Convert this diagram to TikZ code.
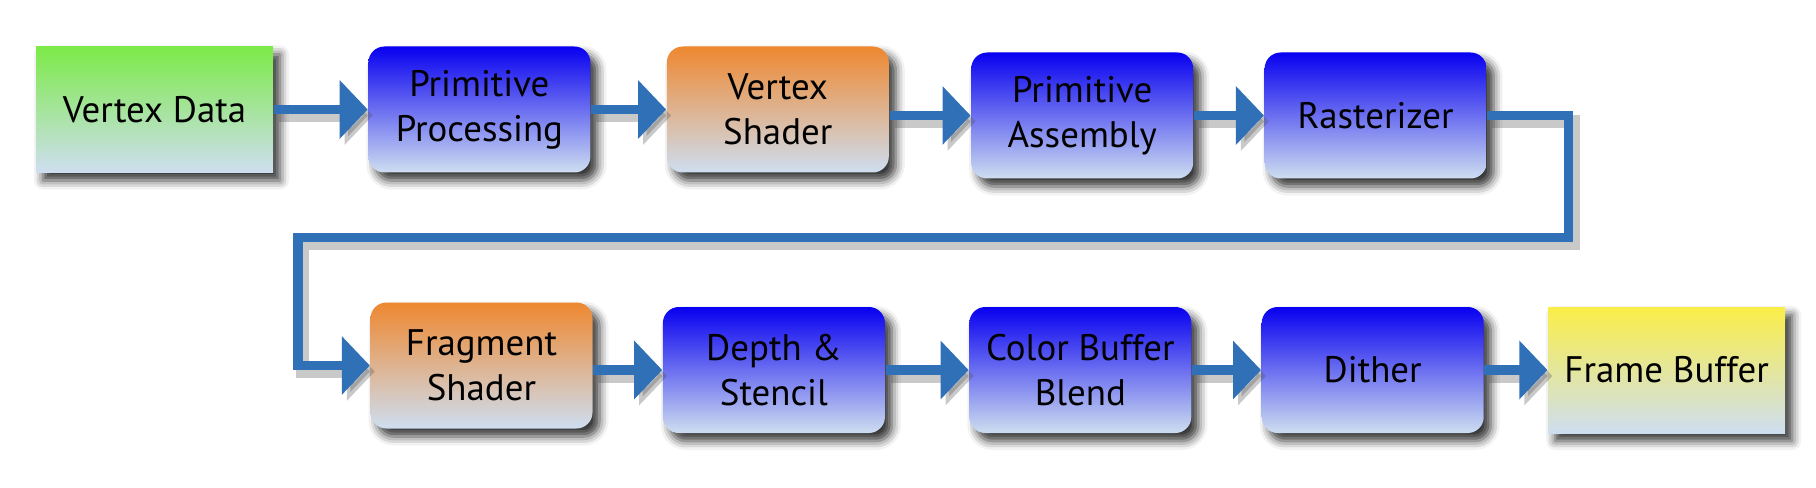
\documentclass[tikz,border=0pt]{standalone}
\usepackage{fontspec}
\setmainfont{PT Sans}
\usepackage{tikz}
\usetikzlibrary{positioning,arrows.meta,shadows.blur}

\definecolor{flowblue}{RGB}{48,112,182}
\definecolor{stageblue}{RGB}{8,0,240}
\definecolor{shaderorange}{RGB}{238,136,48}
\definecolor{datagreen}{RGB}{124,234,72}
\definecolor{bufferyellow}{RGB}{250,238,72}
\definecolor{fadeblue}{RGB}{206,222,240}

\begin{document}
\begin{tikzpicture}[
  font=\fontsize{10.5}{12.8}\selectfont,
  box/.style={rectangle, align=center, inner sep=0pt, minimum width=2.22cm, minimum height=1.26cm,
    bottom color=fadeblue,
    blur shadow={shadow xshift=0.07cm, shadow yshift=-0.08cm, shadow blur radius=0.09cm, shadow opacity=80}},
  stagebox/.style={box, rounded corners=0.16cm, top color=stageblue},
  shaderbox/.style={box, rounded corners=0.16cm, top color=shaderorange},
  databox/.style={box, minimum width=2.37cm, top color=datagreen},
  bufferbox/.style={box, minimum width=2.37cm, top color=bufferyellow},
  flowline/.style={draw=flowblue, line width=0.095cm, -{Triangle[length=0.28cm,width=0.57cm]},
    preaction={draw=black!70, opacity=0.3, line width=0.13cm, transform canvas={xshift=0.05cm,yshift=-0.06cm}}}
]
\useasboundingbox (0,0) rectangle (18.16,-4.88);

% Vertex stages
\node[databox] (vdata) at (1.545,-1.095) {Vertex Data};
\node[stagebox, right=0.94cm of vdata] (pproc) {Primitive\\Processing};
\node[shaderbox, right=0.75cm of pproc] (vshader) {Vertex\\Shader};
\node[stagebox, right=0.81cm of vshader, yshift=-0.06cm] (passem) {Primitive\\Assembly};
\node[stagebox, right=0.70cm of passem] (raster) {Rasterizer};

% Fragment stages
\node[shaderbox] (fshader) at (4.815,-3.655) {Fragment\\Shader};
\node[stagebox, right=0.69cm of fshader, yshift=-0.045cm] (depth) {Depth \&\\Stencil};
\node[stagebox, right=0.83cm of depth] (cblend) {Color Buffer\\Blend};
\node[stagebox, right=0.69cm of cblend] (dither) {Dither};
\node[bufferbox, right=0.63cm of dither] (fbuffer) {Frame Buffer};

% Arrows
\draw[flowline] (vdata) -- (pproc);
\draw[flowline] (pproc) -- (vshader);
\draw[flowline] (vshader.east |- passem) -- (passem);
\draw[flowline] (passem) -- (raster);
\draw[flowline] (raster.east) -- ++(0.81,0) |- ([xshift=-0.72cm,yshift=1.28cm]fshader.west) |- (fshader.west);
\draw[flowline] (fshader.east |- depth) -- (depth);
\draw[flowline] (depth) -- (cblend);
\draw[flowline] (cblend) -- (dither);
\draw[flowline] (dither) -- (fbuffer);
\end{tikzpicture}
\end{document}
